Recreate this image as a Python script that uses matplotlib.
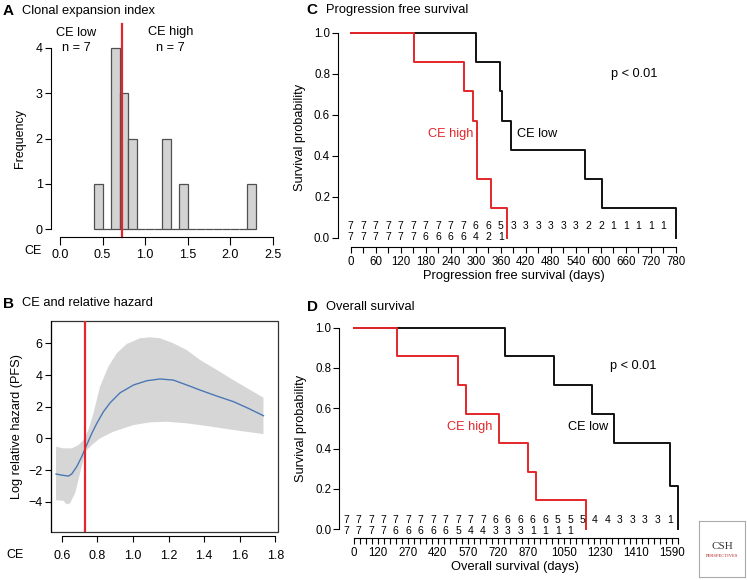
import numpy as np
import matplotlib.pyplot as plt
from matplotlib.patches import Rectangle

plt.rcParams['font.family'] = ['Liberation Sans', 'DejaVu Sans']

RED = '#e3262b'

# A: histogram of clonal expansion index (bins of 0.1 from 0.4 to 2.3)
bin_edges = np.round(np.arange(0.4, 2.31, 0.1), 2)
hist_counts = [1, 0, 4, 3, 2, 0, 0, 0, 2, 0, 1, 0, 0, 0, 0, 0, 0, 0, 1]
ce_cut = 0.73

# B: spline of log relative hazard vs CE, with confidence band
ce_x = [0.568, 0.600, 0.637, 0.656, 0.684, 0.712, 0.740, 0.769, 0.797, 0.834, 0.872,
        0.928, 1.003, 1.078, 1.152, 1.227, 1.302, 1.377, 1.471, 1.564, 1.649, 1.733]
hazard = [-2.25, -2.32, -2.38, -2.25, -1.79, -1.16, -0.42, 0.32, 0.95, 1.68, 2.25,
          2.88, 3.37, 3.64, 3.75, 3.68, 3.37, 3.05, 2.67, 2.32, 1.89, 1.43]
upper_x = [0.568, 0.609, 0.656, 0.694, 0.722, 0.750, 0.778, 0.815, 0.862, 0.909, 0.965,
           1.040, 1.096, 1.152, 1.227, 1.302, 1.377, 1.471, 1.564, 1.649, 1.733]
upper_y = [-0.53, -0.63, -0.63, -0.42, -0.10, 0.53, 1.58, 3.26, 4.53, 5.37, 5.96,
           6.32, 6.38, 6.32, 6.00, 5.58, 4.95, 4.32, 3.68, 3.12, 2.57]
lower_x = [0.568, 0.609, 0.628, 0.647, 0.675, 0.703, 0.733, 0.769, 0.815, 0.890, 1.003,
           1.096, 1.190, 1.302, 1.415, 1.564, 1.733]
lower_y = [-3.90, -3.94, -4.17, -4.10, -3.47, -2.20, -0.84, -0.42, 0.00, 0.42, 0.84,
           1.01, 1.05, 0.95, 0.78, 0.53, 0.27]

# C: progression free survival (Kaplan-Meier)
pfs_low_t = [0, 300, 358, 364, 384, 563, 603, 780]
pfs_low_s = [1, 6/7, 5/7, 4/7, 3/7, 2/7, 1/7, 0]
pfs_high_t = [0, 152, 272, 294, 302, 336, 376]
pfs_high_s = [1, 6/7, 5/7, 4/7, 2/7, 1/7, 0]
pfs_risk_low = [7, 7, 7, 7, 7, 7, 7, 7, 7, 7, 6, 6, 5, 3, 3, 3, 3, 3, 3, 2, 2, 1, 1, 1, 1, 1]
pfs_risk_high = [7, 7, 7, 7, 7, 7, 6, 6, 6, 6, 4, 2, 1]
pfs_ticks = np.arange(0, 781, 30)

# D: overall survival
os_low_t = [0, 756, 1001, 1190, 1303, 1583, 1620]
os_low_s = [1, 6/7, 5/7, 4/7, 3/7, 0.214, 0]
os_high_t = [0, 217, 522, 559, 727, 869, 911, 1160]
os_high_s = [1, 6/7, 5/7, 4/7, 3/7, 2/7, 1/7, 0]
os_risk_low = [7] * 12 + [6] * 5 + [5] * 3 + [4] * 2 + [3] * 4 + [1]
os_risk_high = [7] * 4 + [6] * 5 + [5] + [4] * 2 + [3] * 3 + [1] * 4
os_ticks = np.arange(0, 1621, 30)
os_labels = [0, 120, 270, 420, 570, 720, 870, 1050, 1230, 1410, 1590]

W, H = 747, 580
fig = plt.figure(figsize=(W / 100, H / 100), dpi=100)


def px_axes(l, t, r, b):
    return fig.add_axes([l / W, 1 - b / H, (r - l) / W, (b - t) / H])


def ftext(x, y, s, **kw):
    kw.setdefault('ha', 'center')
    kw.setdefault('va', 'center')
    fig.text(x / W, 1 - y / H, s, **kw)


def panel_title(x, y, letter, title):
    ftext(x, y, letter, ha='left', fontsize=11, fontweight='bold')
    ftext(x + 19.5, y, title, ha='left', fontsize=9.3)


# ---------- A ----------
axA = px_axes(51, 40, 275, 237.3)
axA.bar(bin_edges[:-1], hist_counts, width=0.1, align='edge', color='#d3d3d3',
        edgecolor='#505050', linewidth=0.9)
axA.plot([ce_cut, ce_cut], [-0.176, 4.52], color=RED, lw=1.6, clip_on=False)
axA.set_xlim(-0.106, 2.529)
axA.set_ylim(-0.176, 4.17)
for s in ['top', 'right']:
    axA.spines[s].set_visible(False)
axA.spines['left'].set_bounds(0, 4)
axA.spines['bottom'].set_bounds(0, 2.5)
axA.set_yticks([0, 1, 2, 3, 4])
axA.set_xticks([0, 0.5, 1.0, 1.5, 2.0, 2.5])
axA.set_xticklabels(['0.0', '0.5', '1.0', '1.5', '2.0', '2.5'])
axA.tick_params(labelsize=9, length=4, width=0.8, pad=2)
axA.tick_params(axis='x', length=5.5, pad=3)
axA.set_ylabel('Frequency', fontsize=9, labelpad=7)
ftext(76.5, 32.5, 'CE low', fontsize=9.2)
ftext(76.5, 47.7, 'n = 7', fontsize=9.2)
ftext(170.7, 32.5, 'CE high', fontsize=9.2)
ftext(170.7, 47.7, 'n = 7', fontsize=9.2)
ftext(33, 251, 'CE', fontsize=9)
panel_title(3, 11, 'A', 'Clonal expansion index')

# ---------- B ----------
axB = px_axes(50.7, 321, 277.7, 532.3)
axB.fill(upper_x + lower_x[::-1], upper_y + lower_y[::-1], color='#d6d6d6', lw=0)
axB.plot(ce_x, hazard, color='#4a78b5', lw=1.0)
axB.axvline(ce_cut, color=RED, lw=1.6)
axB.set_xlim(0.538, 1.813)
axB.set_ylim(-5.93, 7.41)
for s in ['top', 'right']:
    axB.spines[s].set_visible(False)
axB.add_patch(Rectangle((0, 0), 1, 1, transform=axB.transAxes, fill=False,
                        lw=0.9, edgecolor='#333333', clip_on=False))
axB.spines['bottom'].set_position(('outward', 3))
axB.spines['bottom'].set_bounds(0.6, 1.8)
axB.set_xticks([0.6, 0.8, 1.0, 1.2, 1.4, 1.6, 1.8])
axB.set_yticks([-4, -2, 0, 2, 4, 6])
axB.tick_params(labelsize=9, length=4, width=0.8, pad=2)
axB.tick_params(axis='x', pad=6)
axB.set_ylabel('Log relative hazard (PFS)', fontsize=9.2, labelpad=4)
ftext(15, 555, 'CE', fontsize=9)
panel_title(3, 303.5, 'B', 'CE and relative hazard')


def km_panel(ax, t_low, s_low, t_high, s_high, risk_x, risk_low, risk_high,
             ticks, labels, xlabel, y_top, y_bot, xlo, xhi, ylo, yhi, xmax, txt_pos):
    ax.step(t_low, s_low, where='post', color='#111111', lw=1.4)
    ax.step(t_high, s_high, where='post', color=RED, lw=1.4)
    for x, n in zip(risk_x, risk_low):
        ax.text(x, y_top, str(n), ha='center', va='center', fontsize=7.5)
    for x, n in zip(risk_x, risk_high):
        ax.text(x, y_bot, str(n), ha='center', va='center', fontsize=7.5)
    ax.set_xlim(xlo, xhi)
    ax.set_ylim(ylo, yhi)
    for s in ['top', 'right']:
        ax.spines[s].set_visible(False)
    ax.spines['left'].set_bounds(0, 1)
    ax.spines['bottom'].set_bounds(0, xmax)
    ax.set_xticks(ticks)
    ax.set_xticklabels([str(t) if t in labels else '' for t in ticks])
    ax.set_yticks([0, 0.2, 0.4, 0.6, 0.8, 1.0])
    ax.set_yticklabels(['0.0', '0.2', '0.4', '0.6', '0.8', '1.0'])
    ax.tick_params(labelsize=8.3, length=4, width=0.8, pad=1.5)
    ax.tick_params(axis='x', pad=3)
    ax.set_xlabel(xlabel, fontsize=9.3, labelpad=1)
    ax.set_ylabel('Survival probability', fontsize=9.2, labelpad=6)
    (px, py), (hx, hy), (lx, ly) = txt_pos
    ax.text(px, py, 'p < 0.01', ha='center', va='center', fontsize=9.2)
    ax.text(hx, hy, 'CE high', ha='center', va='center', fontsize=9.2, color=RED)
    ax.text(lx, ly, 'CE low', ha='center', va='center', fontsize=9.2)


# ---------- C ----------
axC = px_axes(337.7, 28, 690, 246.7)
km_panel(axC, pfs_low_t, pfs_low_s, pfs_high_t, pfs_high_s,
         pfs_ticks, pfs_risk_low, pfs_risk_high,
         pfs_ticks, list(range(0, 781, 60)), 'Progression free survival (days)',
         0.057, 0.004, -31.2, 813.7, -0.044, 1.0244, 780,
         [(679, 0.80), (240, 0.507), (446, 0.507)])
panel_title(306.5, 10, 'C', 'Progression free survival')

# ---------- D ----------
axD = px_axes(339.3, 320, 690, 537.7)
os_risk_x = np.linspace(0, 1620, 27) - 40
km_panel(axD, os_low_t, os_low_s, os_high_t, os_high_s,
         os_risk_x, os_risk_low, os_risk_high,
         os_ticks, os_labels, 'Overall survival (days)',
         0.046, -0.006, -73.6, 1681.7, -0.0417, 1.038, 1620,
         [(1398, 0.81), (578, 0.509), (1173, 0.509)])
panel_title(306.5, 307.3, 'D', 'Overall survival')

# CSH Perspectives logo box
axL = px_axes(699, 521, 745, 577)
axL.set_xlim(0, 1)
axL.set_ylim(0, 1)
axL.set_xticks([])
axL.set_yticks([])
for s in axL.spines.values():
    s.set_color('#aaaaaa')
    s.set_linewidth(0.8)
axL.text(0.5, 0.55, 'CSH', ha='center', va='center', fontsize=8, color='#333333',
         family='Liberation Serif')
axL.text(0.5, 0.37, 'PERSPECTIVES', ha='center', va='center', fontsize=3.3,
         color='#b22222', family='Liberation Serif')

fig.savefig('out.png', dpi=100)
